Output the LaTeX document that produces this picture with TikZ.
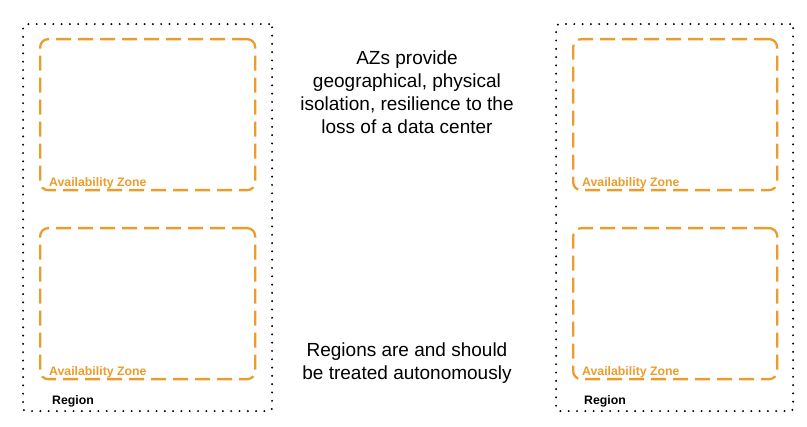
\documentclass[tikz,border=0pt]{standalone}
\usepackage{fontspec}
\setmainfont{Liberation Sans}
\usetikzlibrary{positioning}
\definecolor{azorange}{RGB}{234,157,45}

\begin{document}
\begin{tikzpicture}[
        x=1pt, y=-1pt,
        region/.style={draw, dash pattern=on 0pt off 8.3pt, line cap=round, line width=2.2pt, rounded corners=3pt, inner sep=0pt, anchor=north west, minimum height=387pt},
        zone/.style={draw=azorange, dash pattern=on 15pt off 7pt, line width=2.3pt, rounded corners=8pt, inner sep=0pt, anchor=north west, minimum height=151pt},
        zonelabel/.style={font=\bfseries\fontsize{12.3}{14}\selectfont, text=azorange, anchor=base west, inner sep=0pt},
        regionlabel/.style={font=\bfseries\fontsize{12.3}{14}\selectfont, anchor=base west, inner sep=0pt},
        note/.style={font=\fontsize{19}{23}\selectfont, align=center}
    ]
        \useasboundingbox (0,0) rectangle (807,427);

        % Regions
        \node (regionL) [region, minimum width=249pt] at (22,23) {};
        \node (regionR) [region, minimum width=237pt] at (555,23) {};

        % Availability zones
        \node (azL1) [zone, minimum width=215pt] at (39,38) {};
        \node (azL2) [zone, minimum width=215pt] at (39,227) {};
        \node (azR1) [zone, minimum width=204pt] at (572,38) {};
        \node (azR2) [zone, minimum width=204pt] at (572,227) {};

        % Labels
        \node (labL1) [zonelabel] at ([xshift=10pt, yshift=4.5pt]azL1.south west) {Availability Zone};
        \node (labL2) [zonelabel] at ([xshift=10pt, yshift=4.5pt]azL2.south west) {Availability Zone};
        \node (labR1) [zonelabel] at ([xshift=10pt, yshift=4.5pt]azR1.south west) {Availability Zone};
        \node (labR2) [zonelabel] at ([xshift=10pt, yshift=4.5pt]azR2.south west) {Availability Zone};
        \node (regL) [regionlabel] at ([xshift=30pt, yshift=7.7pt]regionL.south west) {Region};
        \node (regR) [regionlabel] at ([xshift=29pt, yshift=7.7pt]regionR.south west) {Region};

        % Notes
        \node (noteAZ) [note] at (407,92) {AZs provide\\geographical, physical\\isolation, resilience to the\\loss of a data center};
        \node (noteRegion) [note] at (407,363) {Regions are and should\\be treated autonomously};
    \end{tikzpicture}
\end{document}
